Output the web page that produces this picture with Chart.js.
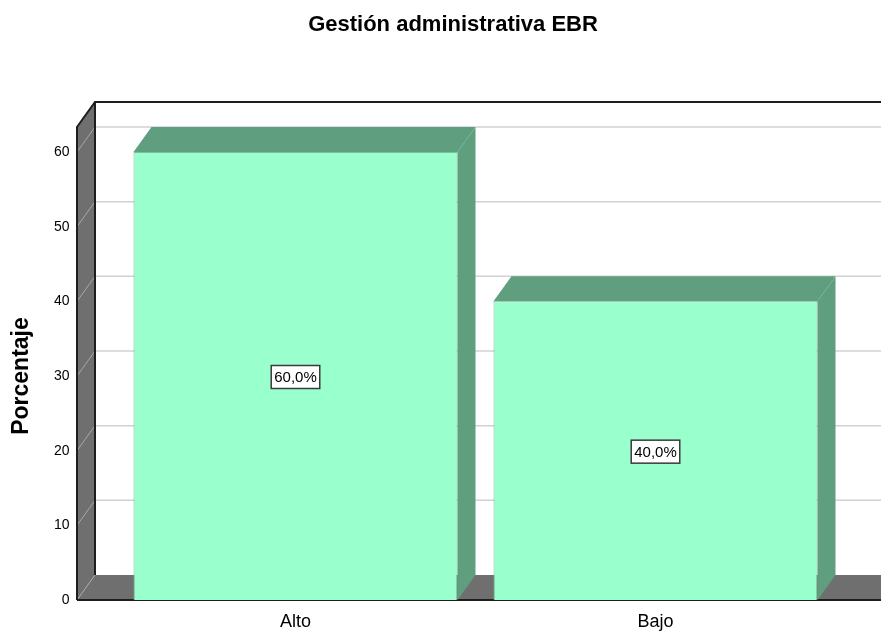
<!DOCTYPE html>
<html>
<head>
<meta charset="utf-8">
<script src="https://cdn.jsdelivr.net/npm/chart.js@4"></script>
<style>
  html, body { margin: 0; padding: 0; background: #fff; }
  #wrap { width: 881px; height: 635px; }
</style>
</head>
<body>
<div id="wrap"><canvas id="chart" width="881" height="635"></canvas></div>
<script>
// data
const categories = ['Alto', 'Bajo'];
const percentages = [60, 40];
const yTicks = [0, 10, 20, 30, 40, 50, 60];

const FONT = "'Liberation Sans', Arial, sans-serif";
const colors = {
  front: '#99ffcc',
  frontEdge: '#7dbf9d',
  depth: '#5f9e7f',
  wall: '#6f6f6f',
  edge: '#1e1e1e',
  grid: '#d2d2d2',
  wallGrid: '#a8a8a8',
};

// ── 3D depth offset of SPSS style chart ──
const DX = 18, DY = -25;
const WALL_X = 77;     // front edge of the left wall
const WALL_EXTRA = 25; // wall rises above the top tick

const fmt = v => v.toFixed(1).replace('.', ',') + '%';

const threeD = {
  id: 'threeD',
  beforeDatasetsDraw(chart) {
    const { ctx, scales: { y } } = chart;
    const W = chart.width;
    const y0 = y.getPixelForValue(0);
    const yTop = y.getPixelForValue(yTicks[yTicks.length - 1]) - WALL_EXTRA;
    ctx.save();

    // back wall grid lines
    ctx.strokeStyle = colors.grid;
    ctx.lineWidth = 1.5;
    yTicks.slice(1).forEach(v => {
      const py = y.getPixelForValue(v) + DY;
      ctx.beginPath();
      ctx.moveTo(WALL_X + DX, py);
      ctx.lineTo(W, py);
      ctx.stroke();
    });

    // floor
    ctx.fillStyle = colors.wall;
    ctx.beginPath();
    ctx.moveTo(WALL_X, y0);
    ctx.lineTo(WALL_X + DX, y0 + DY);
    ctx.lineTo(W + 40, y0 + DY);
    ctx.lineTo(W + 40, y0);
    ctx.closePath();
    ctx.fill();
    ctx.strokeStyle = colors.edge;
    ctx.lineWidth = 2;
    ctx.beginPath();
    ctx.moveTo(WALL_X, y0);
    ctx.lineTo(W, y0);
    ctx.stroke();

    // left wall
    ctx.fillStyle = colors.wall;
    ctx.beginPath();
    ctx.moveTo(WALL_X, y0);
    ctx.lineTo(WALL_X, yTop);
    ctx.lineTo(WALL_X + DX, yTop + DY);
    ctx.lineTo(WALL_X + DX, y0 + DY);
    ctx.closePath();
    ctx.fill();

    // wall grid diagonals
    ctx.strokeStyle = colors.wallGrid;
    ctx.lineWidth = 1;
    yTicks.forEach(v => {
      const py = y.getPixelForValue(v);
      ctx.beginPath();
      ctx.moveTo(WALL_X, py);
      ctx.lineTo(WALL_X + DX, py + DY);
      ctx.stroke();
    });

    // wall edges and top border
    ctx.strokeStyle = colors.edge;
    ctx.lineWidth = 2;
    ctx.beginPath();
    ctx.moveTo(WALL_X, y0);
    ctx.lineTo(WALL_X, yTop);
    ctx.lineTo(WALL_X + DX, yTop + DY);
    ctx.lineTo(W, yTop + DY);
    ctx.moveTo(WALL_X + DX, yTop + DY);
    ctx.lineTo(WALL_X + DX, y0 + DY);
    ctx.stroke();
    ctx.restore();
  },
  afterDatasetsDraw(chart) {
    const { ctx } = chart;
    const meta = chart.getDatasetMeta(0);
    ctx.save();
    meta.data.forEach((bar, i) => {
      const { x, y, base, width } = bar.getProps(['x', 'y', 'base', 'width'], true);
      const l = x - width / 2, r = x + width / 2;
      ctx.fillStyle = colors.depth;
      // top face
      ctx.beginPath();
      ctx.moveTo(l, y);
      ctx.lineTo(l + DX, y + DY);
      ctx.lineTo(r + DX, y + DY);
      ctx.lineTo(r, y);
      ctx.closePath();
      ctx.fill();
      // side face
      ctx.beginPath();
      ctx.moveTo(r, y);
      ctx.lineTo(r + DX, y + DY);
      ctx.lineTo(r + DX, base + DY);
      ctx.lineTo(r, base);
      ctx.closePath();
      ctx.fill();

      // value label box
      const txt = fmt(percentages[i]);
      ctx.font = '15px ' + FONT;
      const tw = ctx.measureText(txt).width;
      const cy = (y + base) / 2 + 1;
      const bw = tw + 6, bh = 23;
      ctx.fillStyle = '#fff';
      ctx.fillRect(x - bw / 2, cy - bh / 2, bw, bh);
      ctx.strokeStyle = '#3a3a3a';
      ctx.lineWidth = 1.5;
      ctx.strokeRect(x - bw / 2, cy - bh / 2, bw, bh);
      ctx.fillStyle = '#000';
      ctx.textAlign = 'center';
      ctx.textBaseline = 'middle';
      ctx.fillText(txt, x, cy + 1);
    });
    ctx.restore();
  },
};

new Chart(document.getElementById('chart'), {
  type: 'bar',
  data: {
    labels: categories,
    datasets: [{
      data: percentages,
      backgroundColor: colors.front,
      borderColor: colors.frontEdge,
      borderWidth: 1,
      barPercentage: 0.9,
      categoryPercentage: 1,
    }],
  },
  options: {
    responsive: false,
    animation: false,
    events: [],
    layout: { padding: { left: 25, right: 0, top: 0, bottom: 0 } },
    plugins: {
      legend: { display: false },
      tooltip: { enabled: false },
      title: {
        display: true,
        text: 'Gestión administrativa EBR',
        color: '#000',
        font: { family: FONT, size: 22, weight: 'bold' },
        padding: { top: 12, bottom: 113.6 },
      },
    },
    scales: {
      x: {
        grid: { display: false, drawTicks: false },
        border: { display: false },
        ticks: { color: '#000', font: { family: FONT, size: 18 }, padding: 11 },
        afterFit: s => { s.height = 35; },
      },
      y: {
        min: 0,
        max: 60,
        grid: { display: false, drawTicks: false },
        border: { display: false },
        afterBuildTicks: s => { s.ticks = yTicks.map(v => ({ value: v })); },
        ticks: { color: '#000', font: { family: FONT, size: 14 }, padding: 46 },
        title: {
          display: true,
          text: 'Porcentaje',
          color: '#000',
          font: { family: FONT, size: 23, weight: 'bold' },
          padding: { top: -16.8, bottom: 0 },
        },
        // big tick padding would otherwise push the plot away from the bottom
        afterFit: s => { s.width = 90.5; s.paddingTop = 0; s.paddingBottom = 0; },
      },
      // empty right margin so the plot ends before the canvas edge
      yRight: {
        position: 'right',
        grid: { display: false, drawTicks: false },
        border: { display: false },
        ticks: { display: false },
        afterFit: s => { s.width = 45.5; s.paddingTop = 0; s.paddingBottom = 0; },
      },
    },
  },
  plugins: [threeD],
});
</script>
</body>
</html>
